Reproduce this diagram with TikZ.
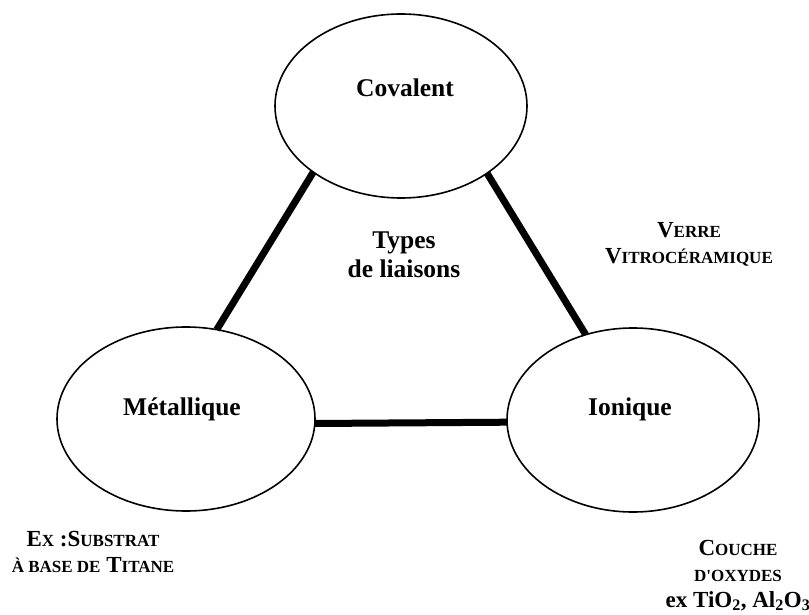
\documentclass[tikz,border=0pt]{standalone}
\usepackage{fontspec}
\setmainfont{Liberation Serif}
\usetikzlibrary{shapes.geometric}
% faked small capitals: the lowered letters are set as smaller capitals
\newcommand\smallcap[1]{{\fontsize{17}{26}\selectfont #1}}
\tikzset{
  bondtype/.style={draw=black, line width=1.6pt, ellipse, inner sep=0pt, outer sep=0pt,
    minimum width=252pt, minimum height=184pt},
  bondname/.style={font=\bfseries\fontsize{25.5}{29}\selectfont, inner sep=0pt, anchor=base},
  note/.style={font=\bfseries\fontsize{23}{26}\selectfont, align=center, inner sep=0pt, anchor=base},
  link/.style={line width=7pt, line cap=butt},
}
\begin{document}
\begin{tikzpicture}[x=1pt, y=-1pt]
  \useasboundingbox (0,0) rectangle (809,615);
  \fill[white] (0,0) rectangle (809,615);

  % the three kinds of bonds
  \node[bondtype] (cov) at (401,106) {};
  \node[bondtype, minimum width=258pt] (met) at (186,419) {};
  \node[bondtype] (ion) at (633,420) {};

  \node[bondname] (covt) at (405,97) {Covalent};
  \node[bondname] (mett) at (182,415) {Métallique};
  \node[bondname] (iont) at (630,415) {Ionique};

  % links between them
  \draw[link] (cov.217) -- (met.71);
  \draw[link] (cov.322) -- (ion.119);
  \draw[link] (met.358.2) -- (ion.181.4);

  % centre title (base anchor sits on the last line)
  \node[bondname, align=center] (title) at (404,277) {Types\\de liaisons};

  % examples of materials
  \node[note] (verre) at (689,263) {V\smallcap{ERRE}\\V\smallcap{ITROCÉRAMIQUE}};
  \node[note] (subst) at (93,572) {E\smallcap{X} :S\smallcap{UBSTRAT}\\\smallcap{À BASE DE} T\smallcap{ITANE}};
  \node[note] (couche) at (738,607) {C\smallcap{OUCHE}\\\smallcap{D\textquotesingle OXYDES}\\ex TiO\textsubscript{2}, Al\textsubscript{2}O\textsubscript{3}};
\end{tikzpicture}
\end{document}
